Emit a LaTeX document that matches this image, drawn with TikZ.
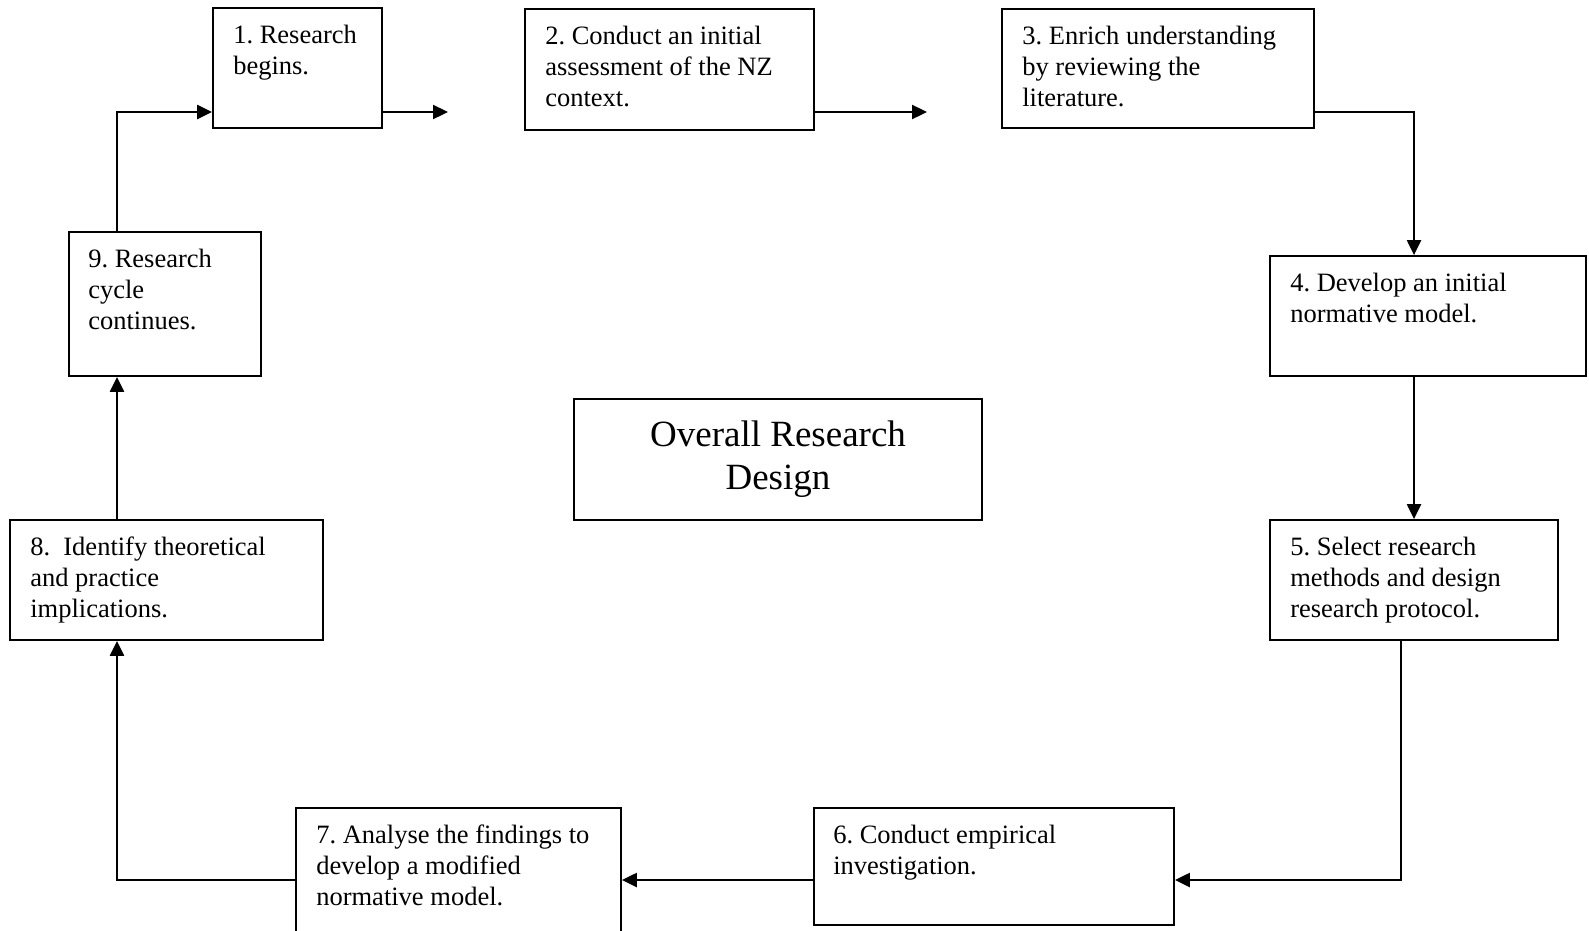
\documentclass[tikz,border=0pt]{standalone}
\usepackage{fontspec}
\setmainfont{Liberation Serif}
\usetikzlibrary{arrows.meta,fit}
% fixed-height strut so every first line sits at the same depth in its box
\newcommand\firststrut{\rule{0pt}{20pt}}
\newcommand\titlestrut{\rule{0pt}{28pt}}
\frenchspacing
\begin{document}
\begin{tikzpicture}[x=1pt,y=-1pt,
  stage/.style={draw, line width=1.8pt, inner sep=0pt, rectangle},
  txt/.style={anchor=north west, inner sep=0pt, align=left,
              font=\fontsize{26.5}{31}\selectfont},
  arr/.style={line width=2.3pt, -{Triangle[length=15pt,width=14pt]}},
]
\useasboundingbox (0,0) rectangle (1589,930);
\clip (0,0) rectangle (1589,930);

% stage boxes
\node[stage, fit={(213,8) (382,128)}]    (b1) {};
\node[stage, fit={(525,9) (814,130)}]    (b2) {};
\node[stage, fit={(1002,9) (1314,128)}]  (b3) {};
\node[stage, fit={(1270,256) (1586,376)}] (b4) {};
\node[stage, fit={(1270,520) (1558,640)}] (b5) {};
\node[stage, fit={(814,808) (1174,925)}] (b6) {};
\node[stage, fit={(296,808) (621,945)}]  (b7) {};
\node[stage, fit={(10,520) (323,640)}]   (b8) {};
\node[stage, fit={(69,232) (261,376)}]   (b9) {};
\node[stage, fit={(574,399) (982,520)}]  (core) {};

% stage texts
\node[txt] (t1) at ([shift={(21,16)}]b1.north west) {\firststrut 1. Research\\begins.};
\node[txt] (t2) at ([shift={(21,16)}]b2.north west) {\firststrut 2. Conduct an initial\\assessment of the NZ\\context.};
\node[txt] (t3) at ([shift={(21,16)}]b3.north west) {\firststrut 3. Enrich understanding\\by reviewing the\\literature.};
\node[txt] (t4) at ([shift={(21,16)}]b4.north west) {\firststrut 4. Develop an initial\\normative model.};
\node[txt] (t5) at ([shift={(21,16)}]b5.north west) {\firststrut 5. Select research\\methods and design\\research protocol.};
\node[txt] (t6) at ([shift={(20,16)}]b6.north west) {\firststrut 6. Conduct empirical\\investigation.};
\node[txt] (t7) at ([shift={(21,16)}]b7.north west) {\firststrut 7. Analyse the findings to\\develop a modified\\normative model.};
\node[txt] (t8) at ([shift={(21,16)}]b8.north west) {\firststrut 8.\ \ Identify theoretical\\and practice\\implications.};
\node[txt] (t9) at ([shift={(20,16)}]b9.north west) {\firststrut 9. Research\\cycle\\continues.};
\node[anchor=north, inner sep=0pt, align=center,
      font=\fontsize{37}{43.5}\selectfont] (tc) at (778,418)
      {\titlestrut Overall Research\\Design};

% routing lines
\coordinate (rowT) at (0,112);
\coordinate (rowB) at (0,880);
\coordinate (colL) at (117,0);
\coordinate (colR) at (1414,0);
\coordinate (colS) at (1401,0);
\coordinate (g1) at (448,112);
\coordinate (g2) at (927,112);

% connectors
\draw[arr] (b9.north -| colL) |- (b1.west |- rowT);
\draw[arr] (b1.east |- rowT) -- (g1);
\draw[arr] (b2.east |- rowT) -- (g2);
\draw[arr] (b3.east |- rowT) -| (b4.north -| colR);
\draw[arr] (b4.south -| colR) -- (b5.north -| colR);
\draw[arr] (b5.south -| colS) |- (b6.east |- rowB);
\draw[arr] (b6.west |- rowB) -- (b7.east |- rowB);
\draw[arr] (b7.west |- rowB) -| (b8.south -| colL);
\draw[arr] (b8.north -| colL) -- (b9.south -| colL);
\end{tikzpicture}
\end{document}
